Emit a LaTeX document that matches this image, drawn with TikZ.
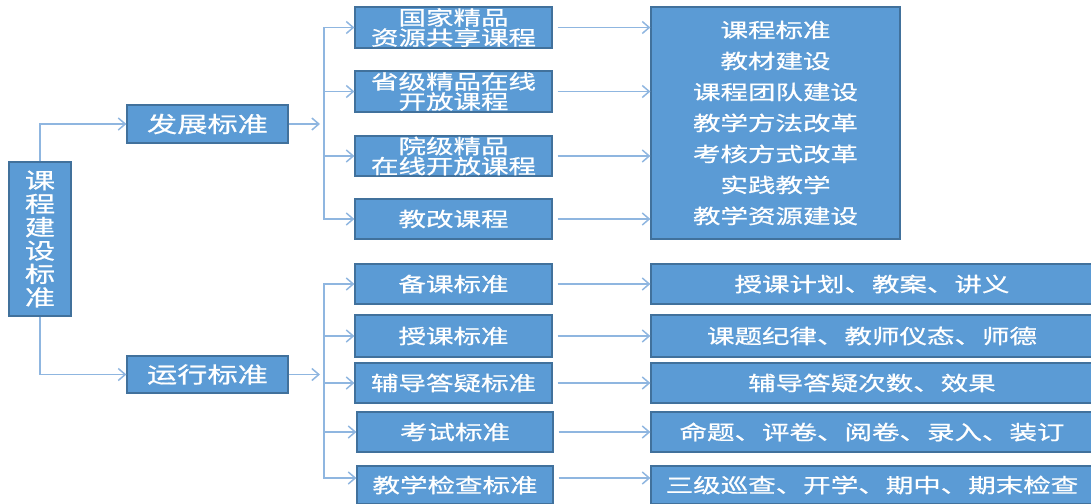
\documentclass[tikz,border=0pt]{standalone}
\usepackage{fontspec}
\newfontfamily\cjk{Noto Sans CJK SC}[FakeStretch=1.375,FakeBold=0.8]
\usetikzlibrary{arrows.meta,calc}
\definecolor{boxfill}{HTML}{5B9BD5}
\definecolor{boxline}{HTML}{41719C}
\definecolor{conn}{HTML}{8FB6E0}
\begin{document}
\begin{tikzpicture}[x=1pt,y=-1pt,
  box/.style={draw=boxline,line width=1.2pt,fill=boxfill,text=white,inner sep=0pt,align=center,
    font=\cjk\fontsize{20}{20}\selectfont},
  lvtwo/.style={box,minimum width=197pt,minimum height=40pt},
  rbox/.style={box,minimum width=442pt,minimum height=40pt},
  link/.style={draw=conn,line width=1.7pt},
  arr/.style={link,-{Straight Barb[length=7pt,width=12pt,line width=1.5pt]}}]
\useasboundingbox (0,0) rectangle (1091,503);
\clip (0,0) rectangle (1091,503);

% root and first level
\node[box,minimum width=62pt,minimum height=154pt,font=\cjk\fontsize{22}{23.4}\selectfont] (root) at (40,239) {课\\程\\建\\设\\标\\准};
\node[box,minimum width=161pt,minimum height=38pt,font=\cjk\fontsize{22}{22}\selectfont] (fz) at (207.5,124) {发展标准};
\node[box,minimum width=161pt,minimum height=37pt,font=\cjk\fontsize{22}{22}\selectfont] (yx) at (207.5,374.5) {运行标准};

% upper second level
\node[lvtwo,minimum height=41pt] (a1) at (453.5,27.5) {国家精品\\资源共享课程};
\node[lvtwo,minimum height=41pt] (a2) at (453.5,91.5) {省级精品在线\\开放课程};
\node[lvtwo] (a3) at (453.5,156) {院级精品\\在线开放课程};
\node[lvtwo] (a4) at (453.5,219) {教改课程};

\node[box,minimum width=249pt,minimum height=232pt,font=\cjk\fontsize{20}{31}\selectfont] (big) at (775.5,123)
  {课程标准\\教材建设\\课程团队建设\\教学方法改革\\考核方式改革\\实践教学\\教学资源建设};

% lower second level
\node[lvtwo] (b1) at (453.5,284) {备课标准};
\node[lvtwo,minimum height=42pt] (b2) at (453.5,336) {授课标准};
\node[lvtwo] (b3) at (453.5,383) {辅导答疑标准};
\node[lvtwo,minimum width=196pt] (b4) at (455,432) {考试标准};
\node[lvtwo,minimum width=196pt,minimum height=38pt] (b5) at (455,485) {教学检查标准};

\node[rbox] (r1) at (872,284) {授课计划、教案、讲义};
\node[rbox,minimum height=42pt] (r2) at (872,336) {课题纪律、教师仪态、师德};
\node[rbox] (r3) at (872,383) {辅导答疑次数、效果};
\node[rbox] (r4) at (872,432) {命题、评卷、阅卷、录入、装订};
\node[rbox,minimum height=38pt] (r5) at (872,485) {三级巡查、开学、期中、期末检查};

% connectors from root
\draw[arr] (root.north) |- (fz.west);
\draw[arr] (root.south) |- (yx.west);

% upper bus
\coordinate (ub) at (324,124);
\draw[arr] (fz.east) -- ([xshift=-4pt]ub);
\draw[arr] (ub) |- (a1.west);
\draw[arr] (ub) |- (a4.west);
\draw[arr] (a2.west -| ub) -- (a2.west);
\draw[arr] (a3.west -| ub) -- (a3.west);
\foreach \n in {a1,a2,a3,a4}
  \draw[arr,shorten <=5pt] (\n.east) -- (\n.east -| big.west);

% lower bus
\coordinate (lb) at (324,374.5);
\draw[arr] (yx.east) -- ([xshift=-4pt]lb);
\draw[arr] (lb) |- (b1.west);
\draw[arr] (lb) |- ([yshift=7pt]b5.west);
\draw[arr] (b2.west -| lb) -- (b2.west);
\draw[arr] (b3.west -| lb) -- (b3.west);
\draw[arr] (b4.west -| lb) -- (b4.west);
\foreach \n/\m in {b1/r1,b2/r2,b3/r3,b4/r4}
  \draw[arr,shorten <=5pt] (\n.east) -- (\n.east -| \m.west);
\draw[arr,shorten <=5pt] ([yshift=7pt]b5.east) -- ([yshift=7pt]b5.east -| r5.west);
\end{tikzpicture}
\end{document}
